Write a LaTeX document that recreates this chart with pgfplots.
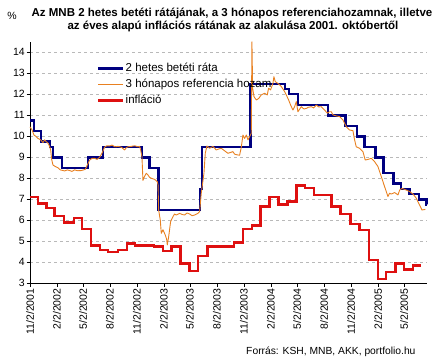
\documentclass[border=0pt]{standalone}
\usepackage{fontspec}
\setmainfont{Liberation Sans}
\usepackage{pgfplots}
\pgfplotsset{compat=1.18}
\definecolor{navyb}{RGB}{0,0,128}
\definecolor{orng}{RGB}{232,128,32}
\definecolor{redl}{RGB}{222,16,16}
\definecolor{gridg}{RGB}{185,185,185}
\begin{document}
\begin{tikzpicture}[x=1bp,y=1bp]
\useasboundingbox (0,0) rectangle (437,363);
\begin{axis}[
  at={(30bp,79.7bp)}, anchor=south west,
  scale only axis, width=397bp, height=241.5bp,
  xmin=0, xmax=1355, ymin=3, ymax=14.5,
  axis x line*=bottom, axis y line*=left,
  axis line style={black, line width=0.8bp},
  ytick={3,4,...,14},
  xtick={0,92,181,273,365,457,546,638,730,822,912,1004,1096,1188,1277},
  xticklabels={11/2/2001,2/2/2002,5/2/2002,8/2/2002,11/2/2002,2/2/2003,5/2/2003,8/2/2003,11/2/2003,2/2/2004,5/2/2004,8/2/2004,11/2/2004,2/2/2005,5/2/2005},
  tick align=outside, major tick length=3.5bp,
  tick style={black, line width=0.6bp},
  ymajorgrids, grid style={dashed, gridg, line width=0.6bp, dash pattern=on 3bp off 3bp},
  /pgf/number format/assume math mode=true,
  tick label style={font=\fontsize{10.5bp}{12bp}\selectfont},
  xticklabel style={rotate=90, anchor=east, inner sep=1.5bp},
  yticklabel style={inner sep=1.5bp},
  clip=false,
  legend style={at={(0.169,0.918)}, anchor=north west, draw=none, fill=none,
    font=\fontsize{11.5bp}{12bp}\selectfont, inner sep=0pt, row sep=3bp,
    nodes={inner sep=1bp, text height=8.5bp, text depth=2.5bp}},
  legend cell align=left,
  legend image code/.code={\draw[#1] (0bp,0bp) -- (25bp,0bp);},
]
\addplot[const plot, navyb, line width=2.4bp] coordinates {
(0,10.75) (13,10.25) (38,9.75) (68,9.5) (78,9.0) (109,8.5) (198,9.0) (249,9.5)
(382,9.0) (408,8.5) (439,6.5) (581,7.5) (587,9.5) (753,12.5) (871,12.25) (884,12.0)
(914,11.5) (1017,11.0) (1077,10.5) (1116,10.0) (1142,9.5) (1179,9.0) (1207,8.25)
(1241,7.75) (1267,7.5) (1295,7.25) (1327,7.0) (1353,6.75) (1355,6.75)};
\addlegendentry{2 hetes betéti ráta}
\addplot[orng, line width=0.9bp, line join=round] coordinates {
(0,10.45) (7,10.3) (13.6,10.06) (20,10.0) (27.3,9.9) (36.4,9.83) (44.4,9.7) (50,9.83)
(55,9.75) (61.4,9.67) (66,9.55) (70.5,9.35) (74,8.9) (78.5,8.63) (86.4,8.56) (95.5,8.5)
(103.5,8.4) (110,8.38) (118.3,8.35) (127,8.4) (135.3,8.37) (143,8.33) (152.4,8.4)
(163,8.36) (175.1,8.37) (183,8.4) (188.8,8.43) (195.6,8.63) (203.6,8.87) (212,8.95)
(220.6,8.95) (229,8.9) (237.7,9.0) (245.6,9.19) (254.7,9.48) (262,9.55) (271.8,9.54)
(280,9.58) (290,9.5) (300.2,9.52) (311.6,9.48) (323,9.35) (328,9.45) (334.4,9.5)
(345.7,9.52) (357.1,9.55) (368.5,9.5) (374.2,9.52) (377.6,9.35) (382.1,9.03) (385.5,7.9)
(391.2,8.1) (396.9,8.24) (402.6,8.16) (408,8.05) (414,8.0) (425.4,7.95) (434.5,7.84)
(437,7.7) (439,6.5) (444.7,6.0) (448.1,5.38) (453.8,5.55) (461.7,5.3) (466.3,5.1)
(468.6,4.83) (473.1,5.2) (479.9,5.94) (487.9,6.17) (493,6.3) (499.3,6.25) (510.6,6.33)
(519,6.28) (527.7,6.25) (536,6.35) (544.8,6.3) (553,6.22) (561.8,6.25) (573.2,6.33)
(578.9,6.41) (584.6,7.29) (593.7,8.24) (598.2,9.19) (603.9,9.54) (613,9.43) (624.4,9.52)
(635.7,9.35) (645,9.4) (652.8,9.43) (665,9.3) (675.6,9.19) (692.6,9.27) (698.3,9.15)
(706,9.12) (715.4,9.1) (721.1,9.48) (726.8,10.06) (732.5,9.9) (738.2,10.06) (743.9,9.83)
(749.5,9.98) (755.2,10.14) (757.5,14.5) (759.8,12.3) (764.4,11.89) (772.4,11.73)
(780.4,11.8) (789.3,11.97) (800.7,12.05) (809.8,11.97) (814.3,12.29) (821.1,12.21)
(829.1,12.52) (832.5,12.84) (837.1,12.6) (846.2,12.52) (857.6,12.37) (869,12.13)
(874.7,11.97) (882.7,11.73) (889.4,11.49) (897.4,11.25) (903.1,11.41) (908.8,11.65)
(914.5,11.17) (925.9,11.41) (935,11.3) (943,11.33) (950,11.38) (960,11.41) (968,11.35)
(977.1,11.49) (985,11.4) (994.2,11.41) (1005.6,11.25) (1014.7,11.1) (1022.6,11.17)
(1028.1,11.17) (1034,11.02) (1045.2,10.97) (1056.6,10.94) (1068,10.78) (1079.3,10.46)
(1090.7,10.3) (1102.1,10.27) (1107.8,9.83) (1113.5,9.5) (1124.9,9.43) (1136.3,9.27)
(1144.2,8.87) (1153.4,8.9) (1164.8,8.95) (1176.2,8.79) (1187.5,8.56) (1198.9,8.08)
(1210.3,7.6) (1221.7,7.13) (1227.4,7.29) (1233.1,7.25) (1244.5,7.32) (1255.9,7.21)
(1261.6,7.44) (1269.6,7.52) (1284.4,7.44) (1295.8,7.37) (1307.2,7.25) (1318.5,7.05)
(1326.5,6.81) (1337.9,6.49) (1349.3,6.52)};
\addlegendentry{3 hónapos referencia hozam}
\addplot[const plot, redl, line width=2.4bp] coordinates {
(0,7.1) (27,6.8) (56,6.6) (84,6.2) (116,5.9) (150,6.1) (177,5.6) (209,4.8) (238,4.6)
(266,4.5) (300,4.6) (332,4.9) (358,4.8) (423,4.75) (453,4.55) (483,4.75) (514,3.95)
(544,3.6) (574,4.3) (606,4.75) (696,4.95) (727,5.6) (758,5.75) (787,6.65) (818,7.1)
(848,6.75) (879,6.9) (910,7.65) (939,7.55) (969,7.2) (1029,6.65) (1060,6.3) (1094,5.83)
(1125,5.55) (1156,4.1) (1187,3.2) (1214,3.55) (1248,3.95) (1276,3.65) (1307,3.85) (1335,3.85)};
\addlegendentry{infláció}
\end{axis}
\node[font=\bfseries\fontsize{11.5bp}{12bp}\selectfont, anchor=base] at (232,346.5) {Az MNB 2 hetes betéti rátájának, a 3 hónapos referenciahozamnak, illetve};
\node[font=\bfseries\fontsize{11.5bp}{12bp}\selectfont, anchor=base] at (233,333.5) {az éves alapú inflációs rátának az alakulása 2001. októbertől};
\node[font=\fontsize{10.5bp}{12bp}\selectfont, anchor=base] at (12,343.5) {\%};
\node[font=\fontsize{10.3bp}{12bp}\selectfont, anchor=base east] at (419,9) {Forrás: KSH, MNB, AKK, portfolio.hu};
\end{tikzpicture}
\end{document}
